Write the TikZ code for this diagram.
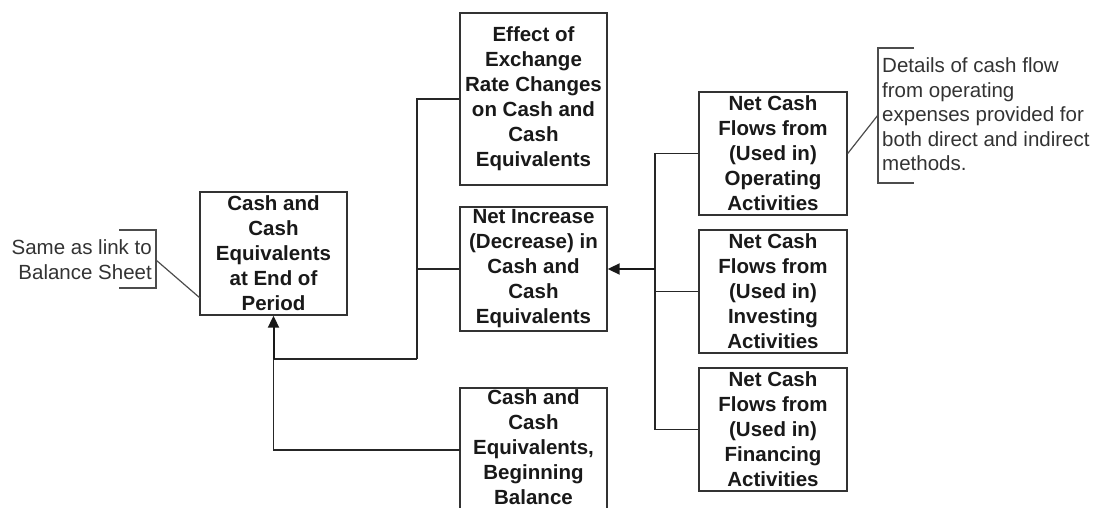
\documentclass[tikz,border=0pt]{standalone}
\usepackage{fontspec}
\setmainfont{Liberation Sans}
\usetikzlibrary{arrows.meta}
\begin{document}
\begin{tikzpicture}[x=1pt,y=-1pt,
  box/.style={draw=black!80,line width=1.4pt,inner sep=0pt,align=center,
    font=\bfseries\fontsize{20.5}{25}\selectfont,text=black!90},
  boxtext/.style={inner sep=0pt,align=center,
    font=\bfseries\fontsize{20.5}{25}\selectfont,text=black!90},
  conn/.style={draw=black!85,line width=1.2pt},
  arr/.style={draw=black!90,line width=2pt,-{Triangle[length=12pt,width=11pt]}},
  note/.style={inner sep=0pt,font=\fontsize{20.5}{25}\selectfont,text=black!80},
  brk/.style={draw=black!70,line width=1.2pt}]
\useasboundingbox (0,0) rectangle (1096,508);
\begin{scope}
\clip (0,0) rectangle (1096,508);
\node[box,minimum width=147pt,minimum height=123pt] (endbox) at (273.5,253.5)
  {Cash and\\Cash\\Equivalents\\at End of\\Period};
\node[box,minimum width=147pt,minimum height=172pt] (effect) at (533.5,99)
  {Effect of\\Exchange\\Rate Changes\\on Cash and\\Cash\\Equivalents};
\node[box,minimum width=147pt,minimum height=124pt] (netinc) at (533.5,269)
  {Net Increase\\(Decrease) in\\Cash and\\Cash\\Equivalents};
\node[box,minimum width=147pt,minimum height=130pt] (begin) at (533.5,453) {};
\node[boxtext] (begintext) at (533.5,447.5)
  {Cash and\\Cash\\Equivalents,\\Beginning\\Balance};
\node[box,minimum width=148pt,minimum height=123pt] (oper) at (773,153.5)
  {Net Cash\\Flows from\\(Used in)\\Operating\\Activities};
\node[box,minimum width=148pt,minimum height=123pt] (inv) at (773,291.5)
  {Net Cash\\Flows from\\(Used in)\\Investing\\Activities};
\node[box,minimum width=148pt,minimum height=123pt] (fin) at (773,429.5)
  {Net Cash\\Flows from\\(Used in)\\Financing\\Activities};
\end{scope}

% right trunk
\coordinate (trunk) at (655,0);
\coordinate (bj) at (460,450);
\draw[conn] (oper.west) -- (oper.west -| trunk) -- (fin.west -| trunk) -- (fin.west);
\draw[conn] (inv.west) -- (inv.west -| trunk);
\draw[arr] (netinc.east -| trunk) -- (netinc.east);

% left joins
\coordinate (j) at (417,359);
\coordinate (j2) at (273.5,359);
\draw[conn] (effect.west) -| (j);
\draw[conn] (netinc.west) -- (netinc.west -| j);
\draw[conn] (bj) -| (j2);
\draw[conn] (j) -- (j2);
\draw[arr] (j2) -- (endbox.south);

% left annotation
\node[note,anchor=east,align=right] (lnote) at (152,259.5) {Same as link to\\Balance Sheet};
\coordinate (lb1) at (119,230);
\coordinate (lb2) at (156,230);
\coordinate (lb3) at (156,288);
\coordinate (lb4) at (119,288);
\coordinate (lbm) at (156,260);
\coordinate (lend) at (200,298);
\draw[brk] (lb1) -- (lb2) -- (lb3) -- (lb4);
\draw[brk] (lbm) -- (lend);

% right annotation
\node[note,anchor=west,align=left,font=\fontsize{20.5}{24.5}\selectfont] (rnote) at (882,114.5)
  {Details of cash flow\\from operating\\expenses provided for\\both direct and indirect\\methods.};
\coordinate (rb1) at (914,48);
\coordinate (rb2) at (878,48);
\coordinate (rb3) at (878,183);
\coordinate (rb4) at (914,183);
\coordinate (rbm) at (878,115);
\draw[brk] (rb1) -- (rb2) -- (rb3) -- (rb4);
\draw[brk] (oper.east) -- (rbm);
\end{tikzpicture}
\end{document}
